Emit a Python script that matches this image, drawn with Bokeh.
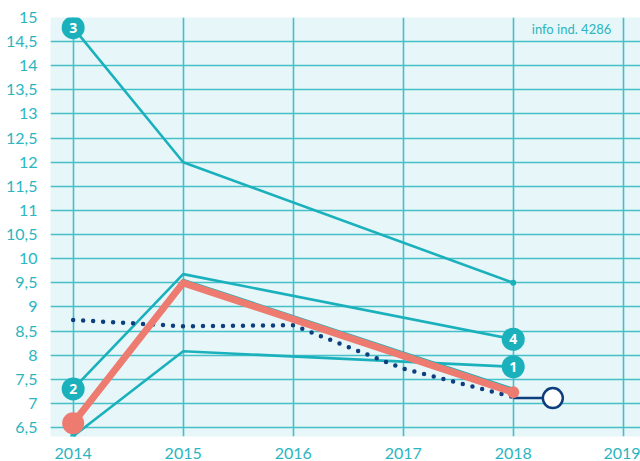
from bokeh.plotting import figure
from bokeh.models import FixedTicker, ColumnDataSource, Range1d
from bokeh.core.properties import value
from bokeh.embed import file_html
from bokeh.resources import INLINE

# ---- data ----
years = [2014, 2015, 2018]
series3 = [14.79, 12.0, 9.5]
series2_4 = [7.3, 9.68, 8.33]
series_mid = [6.6, 9.56, 7.3]
series1 = [6.32, 8.08, 7.76]
red_years = [2014, 2015, 2018]
red_vals = [6.59, 9.5, 7.23]
dot_years = [2014, 2015, 2016, 2017, 2018]
dot_vals = [8.73, 8.60, 8.62, 7.72, 7.13]
proj_years = [2018, 2018.36]
proj_vals = [7.11, 7.11]
label_x = [2014, 2014, 2018, 2018]
label_y = [14.79, 7.3, 8.33, 7.76]
label_text = ["3", "2", "4", "1"]
x_ticks = [2014, 2015, 2016, 2017, 2018, 2019]
y_ticks = [6.5 + 0.5 * i for i in range(18)]
note = "info ind. 4286"

TEAL = "#1BB1BC"
GRID = "#45C0C8"
BG = "#E6F6F9"
RED = "#EE7B6F"
NAVY = "#0D3E7E"
FONT = "Lato"

p = figure(width=640, height=461, output_backend="svg", toolbar_location=None,
           x_range=Range1d(2013.794, 2019.157), y_range=Range1d(6.314, 15.0),
           min_border_left=50, min_border_right=0, min_border_top=17, min_border_bottom=24)
p.background_fill_color = BG
p.border_fill_color = "white"
p.outline_line_color = None

# axes
for ax in (p.xaxis[0], p.yaxis[0]):
    ax.axis_line_color = None
    ax.major_tick_line_color = None
    ax.minor_tick_line_color = None
    ax.major_label_text_color = "#2AB5C0"
    ax.major_label_text_font = FONT
    ax.major_label_text_font_size = "16px"
p.xaxis.ticker = FixedTicker(ticks=x_ticks)
p.yaxis.ticker = FixedTicker(ticks=y_ticks)
p.yaxis.major_label_overrides = {t: (str(int(t)) if t == int(t) else str(t).replace(".", ",")) for t in y_ticks}
p.xaxis.major_label_standoff = 5
p.yaxis.major_label_standoff = 7

p.xgrid.ticker = FixedTicker(ticks=x_ticks)
p.ygrid.ticker = FixedTicker(ticks=y_ticks)
for g in (p.xgrid[0], p.ygrid[0]):
    g.grid_line_color = GRID
    g.grid_line_width = 1.6

# teal lines
for s in (series3, series2_4, series_mid, series1):
    p.line(years, s, line_color=TEAL, line_width=2.6)
p.scatter([years[-1]], [series3[-1]], size=6, fill_color=TEAL, line_color=None)
p.scatter([years[0]], [series1[0]], size=6, fill_color=TEAL, line_color=None)

# dotted navy
p.line(dot_years, dot_vals, line_color=NAVY, line_width=4.5, line_dash="0 10", line_cap="round")
p.line(proj_years, proj_vals, line_color=NAVY, line_width=2.5)

# red
p.line(red_years, red_vals, line_color=RED, line_width=7, line_join="round")
p.scatter([red_years[0]], [red_vals[0]], size=22, fill_color=RED, line_color=None)
p.scatter([red_years[-1]], [red_vals[-1]], size=12, fill_color=RED, line_color=None)

p.scatter([proj_years[-1]], [proj_vals[-1]], size=20, fill_color="white", line_color=NAVY, line_width=2.5)

# numbered labels
src = ColumnDataSource(dict(x=label_x, y=label_y, t=label_text))
p.scatter("x", "y", source=src, size=23, fill_color=TEAL, line_color=None)
p.text("x", "y", text="t", source=src, text_color="white", text_font=value("Open Sans"),
       text_font_style="bold", text_font_size="14px", text_align="center", text_baseline="middle")

p.text([2018.53], [14.76], text=[note], text_color="#2AB5C0", text_font=value(FONT),
       text_font_size="13px", text_align="center", text_baseline="middle")

open("out.html", "w").write(file_html(p, INLINE))
